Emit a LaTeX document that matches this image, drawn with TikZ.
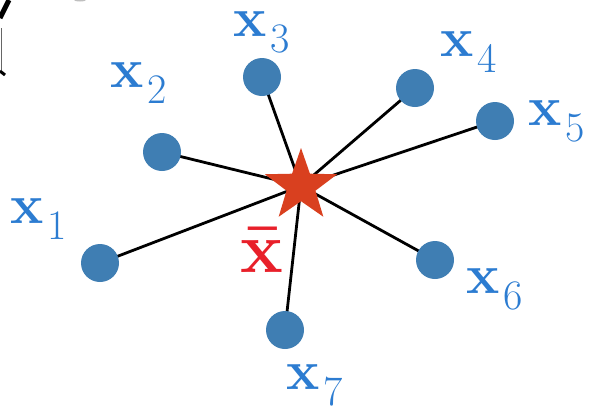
\documentclass[tikz,border=0pt]{standalone}
\usepackage{tikz,xcolor}
\usetikzlibrary{shapes.geometric,backgrounds}

\definecolor{dotblue}{HTML}{3F7EB3}
\definecolor{labblue}{HTML}{2C7CD1}
\definecolor{starred}{HTML}{D9401F}
\definecolor{barred}{HTML}{E8202A}

% label: bold x with a lowered index
\newcommand{\xlab}[1]{{\bfseries x}\kern4pt\raisebox{-16pt}{\fontsize{42}{48}\selectfont #1}}

\begin{document}
\begin{tikzpicture}[x=1pt,y=-1pt,
  pnt/.style={circle, fill=dotblue, minimum size=38pt, inner sep=0pt},
  lab/.style={text=labblue, font=\fontsize{56}{64}\selectfont, anchor=base west, inner sep=0pt},
  spoke/.style={black, line width=2.8pt}]
\useasboundingbox (0,0) rectangle (596,410);

% cut-off bits at the top left
\draw[line width=5pt] (0,18) -- (9,0);
\draw[black!60, line width=1pt] (1,28) -- (1,70);
\draw[line width=3pt] (0,71) -- (5,75);
\fill[black!25] (80,0) ellipse (6 and 1.5);

% the points
\node[pnt] (P1) at (100,263) {};
\node[pnt] (P2) at (162,152) {};
\node[pnt] (P3) at (262,77) {};
\node[pnt] (P4) at (415,88) {};
\node[pnt] (P5) at (495,121) {};
\node[pnt] (P6) at (435,260) {};
\node[pnt] (P7) at (285,330) {};

% the mean
\node[star, star points=5, star point ratio=2.5, minimum size=76pt, inner sep=0pt, fill=starred] (S) at (301,186) {};

\begin{scope}[on background layer]
\draw[spoke] (S.center) -- (P1.center);
\draw[spoke] (S.center) -- (P2.center);
\draw[spoke] (S.center) -- (P3.center);
\draw[spoke] (S.center) -- (P4.center);
\draw[spoke] (S.center) -- (P5.center);
\draw[spoke] (S.center) -- (P6.center);
\draw[spoke] (S.center) -- (P7.center);
\end{scope}

% labels
\node[lab] (L1) at (10,223) {\xlab{1}};
\node[lab] (L2) at (110,87) {\xlab{2}};
\node[lab] (L3) at (233,36) {\xlab{3}};
\node[lab] (L4) at (440,56) {\xlab{4}};
\node[lab] (L5) at (528,125) {\xlab{5}};
\node[lab] (L6) at (466,293) {\xlab{6}};
\node[lab] (L7) at (286,389) {\xlab{7}};
\node[text=barred, font=\fontsize{72}{80}\selectfont\bfseries, anchor=base west, inner sep=0pt] (LS) at (240,272) {\={x}};

\end{tikzpicture}
\end{document}
